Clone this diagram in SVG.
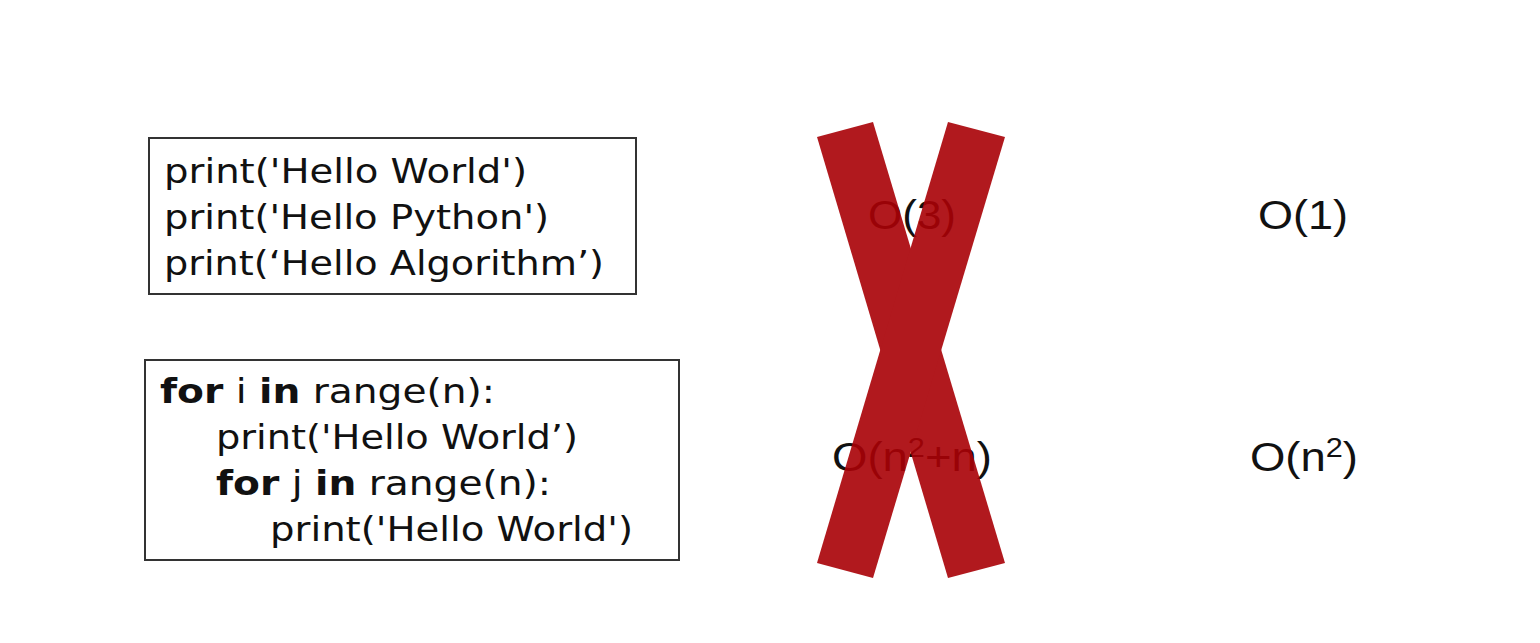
<svg xmlns="http://www.w3.org/2000/svg" width="1540" height="643" viewBox="0 0 1540 643">
<style>
.box{fill:#fff;stroke:#333;stroke-width:2}
.code{font-family:"DejaVu Sans","Liberation Sans",sans-serif;font-size:34px;fill:#111}
.b{font-weight:bold}
.big{font-family:"Liberation Sans",Arial,sans-serif;font-size:40px;fill:#111}
.sup{font-size:27px}
.cross{fill:#a90106}
</style>
<rect width="1540" height="643" fill="#fff"/>
<g id="code-constant">
<rect class="box" x="149" y="138" width="487" height="156"/>
<text class="code" x="164" y="183" textLength="363" lengthAdjust="spacingAndGlyphs">print('Hello World')</text>
<text class="code" x="164" y="229" textLength="385" lengthAdjust="spacingAndGlyphs">print('Hello Python')</text>
<text class="code" x="164" y="275" textLength="440" lengthAdjust="spacingAndGlyphs">print(‘Hello Algorithm’)</text>
</g>
<g id="code-nested">
<rect class="box" x="145" y="360" width="534" height="200"/>
<text class="code" x="160" y="403" textLength="335" lengthAdjust="spacingAndGlyphs"><tspan class="b">for</tspan> i <tspan class="b">in</tspan> range(n):</text>
<text class="code" x="216" y="449" textLength="362" lengthAdjust="spacingAndGlyphs">print('Hello World’)</text>
<text class="code" x="216" y="495" textLength="335" lengthAdjust="spacingAndGlyphs"><tspan class="b">for</tspan> j <tspan class="b">in</tspan> range(n):</text>
<text class="code" x="270" y="541" textLength="363" lengthAdjust="spacingAndGlyphs">print('Hello World')</text>
</g>
<g id="wrong-labels">
<text class="big" x="868" y="229" textLength="88" lengthAdjust="spacingAndGlyphs">O(3)</text>
<text class="big" x="832" y="471" textLength="160" lengthAdjust="spacingAndGlyphs">O(n<tspan class="sup" dy="-14">2</tspan><tspan dy="14">+n)</tspan></text>
</g>
<g id="cross" opacity="0.9">
<polygon class="cross" points="817,137 873,122 1005,563 948,578"/>
<polygon class="cross" points="948,122 1005,137 873,578 817,563"/>
</g>
<g id="right-labels">
<text class="big" x="1258" y="229" textLength="90" lengthAdjust="spacingAndGlyphs">O(1)</text>
<text class="big" x="1250" y="471" textLength="108" lengthAdjust="spacingAndGlyphs">O(n<tspan class="sup" dy="-14">2</tspan><tspan dy="14">)</tspan></text>
</g>
</svg>
